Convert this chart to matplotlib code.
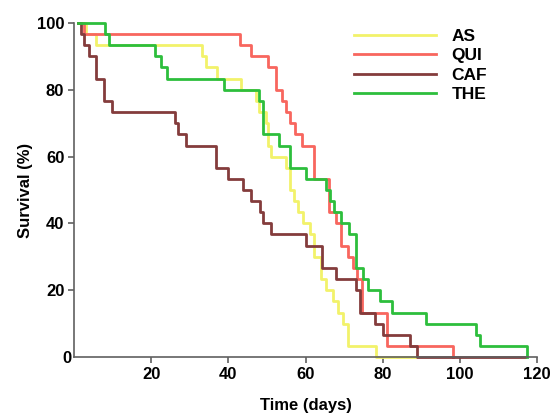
import matplotlib
matplotlib.use("Agg")
import matplotlib.pyplot as plt

plt.rcParams['font.family'] = ['Liberation Sans', 'DejaVu Sans']

# survival curves (time in days, survival in %)
AS_t = [1, 3, 5.8, 33.3, 34.3, 37.1, 43.2, 47.1, 47.9, 49.7, 50.2, 51, 55, 56, 57.1, 58.1, 59.3, 61.2, 62.3, 63.9, 65.3, 67.2, 68.5, 69.7, 71.1, 78.2, 88.7]
AS_s = [100, 96.7, 93.3, 90, 86.7, 83.3, 80, 76.7, 73.3, 70, 63.3, 60, 56.7, 50, 46.7, 43.3, 40, 36.7, 30, 23.3, 20, 16.7, 13.3, 10, 3.3, 0, 0]

QUI_t = [1, 2.7, 43.1, 46, 50.2, 52.3, 53.8, 54.9, 56, 57.2, 59.2, 62.1, 66, 67.9, 69.1, 71.1, 72.2, 73.3, 74.6, 81.1, 98.3]
QUI_s = [100, 96.7, 93.3, 90, 86.7, 80, 76.7, 73.3, 70, 66.7, 63.3, 53.3, 43.3, 40, 33.3, 30, 26.7, 23.3, 13.3, 3.3, 0]

CAF_t = [1, 1.9, 2.7, 3.9, 5.6, 7.7, 9.9, 26.1, 27, 29.1, 36.9, 40, 43.9, 46, 48.2, 49, 51, 60.1, 64.2, 67.8, 73.1, 74.2, 78.1, 80.1, 87.1, 89, 117]
CAF_s = [100, 96.7, 93.3, 90, 83.3, 76.7, 73.3, 70, 66.7, 63.3, 56.7, 53.3, 50, 46.7, 43.3, 40, 36.7, 33.3, 26.7, 23.3, 20, 13.3, 10, 6.7, 3.3, 0, 0]

THE_t = [1, 8.1, 9, 21.1, 22.6, 24, 38.9, 48, 48.9, 53.2, 56, 60.1, 65.3, 66.3, 67.3, 69.3, 71.4, 73.1, 75, 76.3, 79.4, 82.3, 91.3, 104.3, 105.3, 117.4]
THE_s = [100, 96.7, 93.3, 90, 86.7, 83.3, 80, 76.7, 66.7, 63.3, 56.7, 53.3, 50, 46.7, 43.3, 40, 36.7, 26.7, 23.3, 20, 16.7, 13.3, 10, 6.7, 3.3, 0]

labels = ["AS", "QUI", "CAF", "THE"]
colors = ["#F2F26A", "#F8665E", "#843C3C", "#2DBE3C"]
xticks = [20, 40, 60, 80, 100, 120]
yticks = [20, 40, 60, 80, 100]

fig = plt.figure(figsize=(5.54, 4.17), dpi=100)
ax = fig.add_axes([0.1336, 0.1439, 0.9693 - 0.1336, 0.9448 - 0.1439])

series = [(AS_t, AS_s), (QUI_t, QUI_s), (CAF_t, CAF_s), (THE_t, THE_s)]
for (t, s), lab, c in zip(series, labels, colors):
    ax.step(t, s, where='post', color=c, lw=2, label=lab, clip_on=False)

ax.set_xlim(0, 120)
ax.set_ylim(0, 100)
ax.set_xticks(xticks)
ax.set_yticks(yticks)
for sp in ['top', 'right']:
    ax.spines[sp].set_visible(False)
for sp in ['left', 'bottom']:
    ax.spines[sp].set_color('#606060')
    ax.spines[sp].set_linewidth(1.2)
ax.tick_params(direction='out', length=4, width=1.2, color='#606060',
               labelsize=12, pad=3)
for lbl in ax.get_xticklabels() + ax.get_yticklabels():
    lbl.set_fontweight('bold')
ax.text(-0.016, -0.005, "0", transform=ax.transAxes, ha='center', va='center',
        fontsize=12, fontweight='bold')

ax.set_xlabel("Time (days)", fontsize=12, fontweight='bold', labelpad=12)
ax.set_ylabel("Survival (%)", fontsize=12, fontweight='bold', labelpad=3)

leg = ax.legend(loc='upper left', bbox_to_anchor=(0.572, 1.03), frameon=False,
                handlelength=4.7, handletextpad=0.9, labelspacing=0.25,
                prop={'size': 12.5, 'weight': 'bold'})

fig.savefig("out.png", dpi=100)
